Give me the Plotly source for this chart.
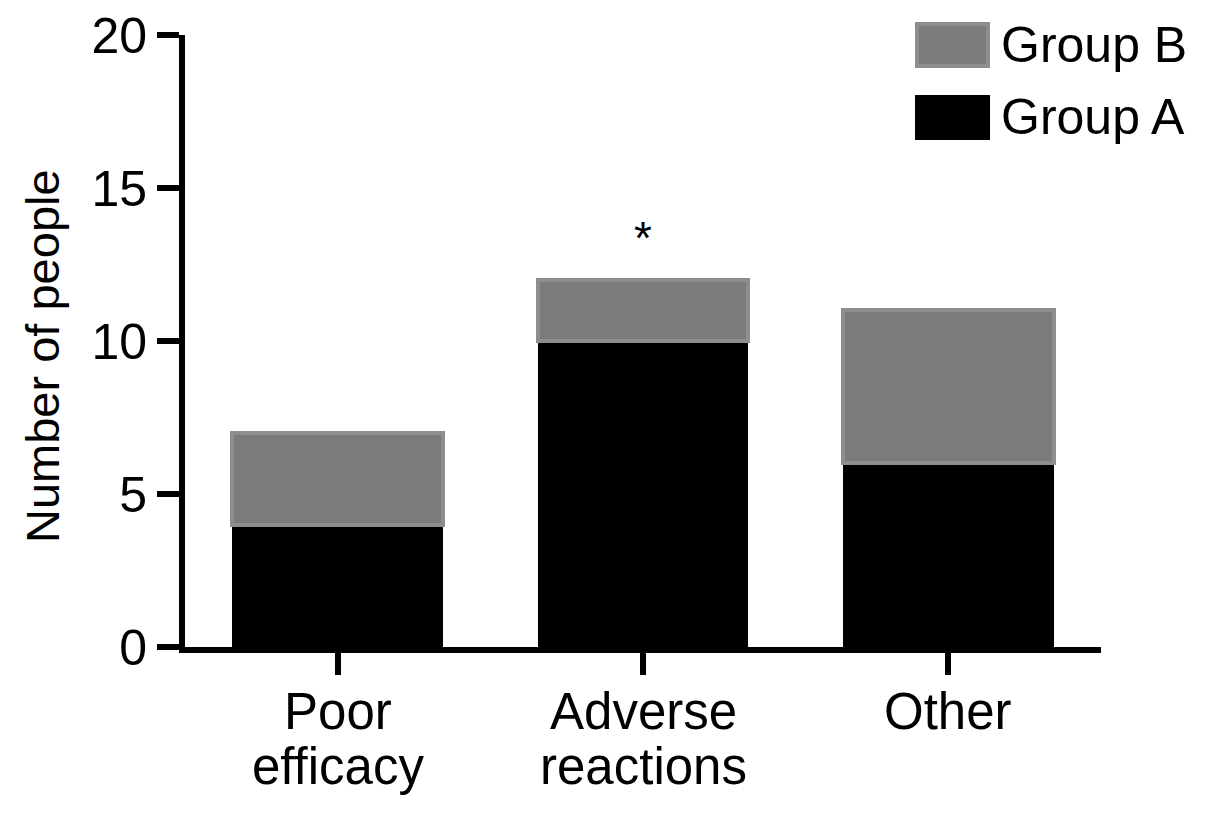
import plotly.graph_objects as go

categories = ["Poor efficacy", "Adverse reactions", "Other"]
label_lines = [["Poor", "efficacy"], ["Adverse", "reactions"], ["Other"]]
group_a = [4, 10, 6]
group_b = [3, 2, 5]
stars = ["", "*", ""]
y_ticks = [0, 5, 10, 15, 20]
y_title = "Number of people"

FONT = "Liberation Sans, Arial, Helvetica, sans-serif"
GRAY = "#7b7b7b"
GRAY_EDGE = "#8e8e8e"

x_idx = list(range(len(categories)))

# page has an 8px body margin; layout given in page pixels, converted here
OFF = 8
W, H = 1205, 816
L, R, T, B = 185 - OFF, 1101 - OFF, 35 - OFF, 647 - OFF

def px(x):
    return (x - OFF - L) / (R - L)

def py(y):
    return (B - (y - OFF)) / (B - T)

fig = go.Figure()
fig.add_trace(go.Bar(x=x_idx, y=group_a, name="Group A", width=0.69,
                     marker=dict(color="#000000", line=dict(color="#000000", width=0)),
                     showlegend=False))
fig.add_trace(go.Bar(x=x_idx, y=group_b, name="Group B", width=0.69,
                     marker=dict(color=GRAY, line=dict(color=GRAY_EDGE, width=4)),
                     showlegend=False))

for i, s in enumerate(stars):
    if s:
        fig.add_annotation(x=i, y=group_a[i] + group_b[i], text=s, showarrow=False,
                           yanchor="bottom", yshift=14,
                           font=dict(family=FONT, size=46, color="black"))

# category labels (two lines with tighter spacing than plotly's default)
line_y = [711, 766]
for i, lines in enumerate(label_lines):
    for j, t in enumerate(lines):
        fig.add_annotation(x=i, xref="x", yref="paper", y=py(line_y[j]),
                           xanchor="center", yanchor="middle", text=t, showarrow=False,
                           font=dict(family=FONT, size=51, color="black"))

# y-axis title
fig.add_annotation(xref="paper", yref="paper", x=px(42), y=py(356), textangle=-90,
                   xanchor="center", yanchor="middle", text=y_title, showarrow=False,
                   font=dict(family=FONT, size=47, color="black"))

# custom legend
legend_items = [("Group B", GRAY, GRAY_EDGE, 22, 68), ("Group A", "#000000", "#000000", 95, 140)]
for name, fill, edge, y0, y1 in legend_items:
    fig.add_shape(type="rect", xref="paper", yref="paper",
                  x0=px(917), x1=px(988), y0=py(y1 - 2), y1=py(y0 + 2),
                  fillcolor=fill, line=dict(color=edge, width=4))
    fig.add_annotation(xref="paper", yref="paper", x=px(999), y=py((y0 + y1) / 2),
                       xanchor="left", yanchor="middle", text=name, showarrow=False,
                       font=dict(family=FONT, size=50, color="black"))

fig.update_layout(
    barmode="stack",
    width=W, height=H,
    margin=dict(l=L, r=W - R, t=T, b=H - B, autoexpand=False),
    plot_bgcolor="white", paper_bgcolor="white",
    font=dict(family=FONT, color="black"),
)
fig.update_xaxes(
    range=[-0.5, 2.5], tickvals=x_idx, ticktext=["", "", ""],
    showline=True, linecolor="black", linewidth=6,
    ticks="outside", ticklen=22, tickwidth=6, tickcolor="black",
    showgrid=False, zeroline=False, fixedrange=True, automargin=False,
)
fig.update_yaxes(
    range=[0, 20], tickvals=y_ticks,
    showline=True, linecolor="black", linewidth=6,
    ticks="outside", ticklen=22, tickwidth=6, tickcolor="black",
    tickfont=dict(family=FONT, size=50, color="black"),
    ticklabeloverflow="allow",
    showgrid=False, zeroline=False, fixedrange=True, automargin=False,
)

fig.write_html("out.html")
